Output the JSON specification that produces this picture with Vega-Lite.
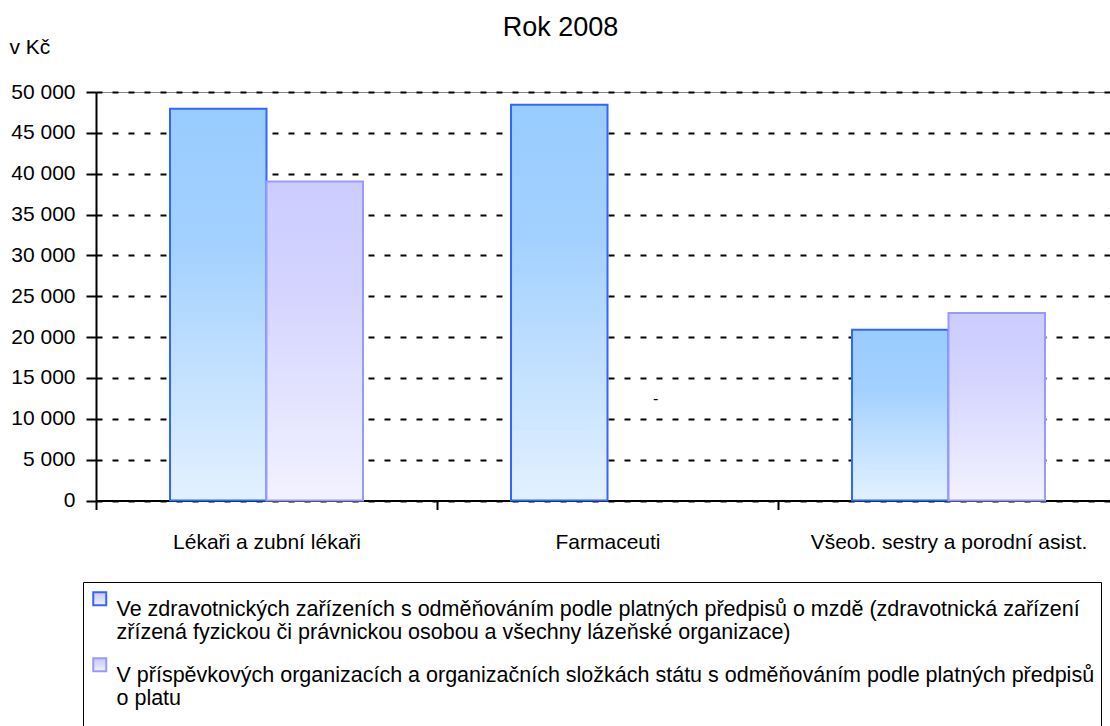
{
  "$schema": "https://vega.github.io/schema/vega-lite/v6.json",
  "width": 1023,
  "height": 408.5,
  "autosize": {"type": "none"},
  "padding": {"left": 96, "top": 92, "right": -9, "bottom": 225.5},
  "background": "white",
  "config": {
    "font": "Liberation Sans",
    "view": {"stroke": "#888888", "strokeWidth": 1}
  },
  "title": {
    "text": "Rok 2008",
    "fontSize": 27,
    "font": "Liberation Sans",
    "fontWeight": "normal",
    "color": "black",
    "anchor": "middle",
    "dx": -47,
    "offset": -27,
    "baseline": "alphabetic"
  },
  "data": {
    "values": [
      {"kategorie": "Lékaři a zubní lékaři", "skupina": "Ve zdravotnických zařízeních s odměňováním podle platných předpisů o mzdě (zdravotnická zařízení zřízená fyzickou či právnickou osobou a všechny lázeňské organizace)", "mzda": 47950, "popisek": null},
      {"kategorie": "Lékaři a zubní lékaři", "skupina": "V příspěvkových organizacích a organizačních složkách státu s odměňováním podle platných předpisů o platu", "mzda": 39050, "popisek": null},
      {"kategorie": "Farmaceuti", "skupina": "Ve zdravotnických zařízeních s odměňováním podle platných předpisů o mzdě (zdravotnická zařízení zřízená fyzickou či právnickou osobou a všechny lázeňské organizace)", "mzda": 48450, "popisek": null},
      {"kategorie": "Farmaceuti", "skupina": "V příspěvkových organizacích a organizačních složkách státu s odměňováním podle platných předpisů o platu", "mzda": null, "popisek": "-"},
      {"kategorie": "Všeob. sestry a porodní asist.", "skupina": "Ve zdravotnických zařízeních s odměňováním podle platných předpisů o mzdě (zdravotnická zařízení zřízená fyzickou či právnickou osobou a všechny lázeňské organizace)", "mzda": 20900, "popisek": null},
      {"kategorie": "Všeob. sestry a porodní asist.", "skupina": "V příspěvkových organizacích a organizačních složkách státu s odměňováním podle platných předpisů o platu", "mzda": 22950, "popisek": null}
    ]
  },
  "encoding": {
    "x": {
      "field": "kategorie",
      "type": "nominal",
      "sort": ["Lékaři a zubní lékaři", "Farmaceuti", "Všeob. sestry a porodní asist."],
      "scale": {"paddingInner": 0, "paddingOuter": 0},
      "axis": {
        "title": null,
        "tickBand": "extent",
        "domainColor": "black",
        "domainWidth": 2,
        "tickColor": "black",
        "tickWidth": 2,
        "tickSize": 9,
        "labelFontSize": 21,
        "labelColor": "black",
        "labelPadding": 22,
        "labelLimit": 400,
        "labelAngle": 0,
        "grid": false
      }
    },
    "xOffset": {
      "field": "skupina",
      "type": "nominal",
      "scale": {
        "domain": [
          "Ve zdravotnických zařízeních s odměňováním podle platných předpisů o mzdě (zdravotnická zařízení zřízená fyzickou či právnickou osobou a všechny lázeňské organizace)",
          "V příspěvkových organizacích a organizačních složkách státu s odměňováním podle platných předpisů o platu"
        ],
        "paddingInner": 0,
        "paddingOuter": 0.767
      }
    }
  },
  "layer": [
    {
      "mark": {"type": "bar", "strokeWidth": 2},
      "encoding": {
        "y": {
          "field": "mzda",
          "type": "quantitative",
          "scale": {"domain": [0, 50000], "nice": false},
          "axis": {
            "title": "v Kč",
            "titleAngle": 0,
            "titleX": -87,
            "titleY": -39,
            "titleAlign": "left",
            "titleBaseline": "alphabetic",
            "titleFontSize": 21,
            "titleFontWeight": "normal",
            "titleColor": "black",
            "values": [0, 5000, 10000, 15000, 20000, 25000, 30000, 35000, 40000, 45000, 50000],
            "labelExpr": "replace(format(datum.value, ','), ',', ' ')",
            "labelFontSize": 21,
            "labelColor": "black",
            "labelPadding": 11,
            "tickSize": 10,
            "tickWidth": 2,
            "tickColor": "black",
            "domainColor": "black",
            "domainWidth": 2,
            "grid": true,
            "gridColor": "black",
            "gridDash": [6, 10],
            "gridWidth": 2
          }
        },
        "stroke": {
          "field": "skupina",
          "type": "nominal",
          "scale": {
            "domain": [
              "Ve zdravotnických zařízeních s odměňováním podle platných předpisů o mzdě (zdravotnická zařízení zřízená fyzickou či právnickou osobou a všechny lázeňské organizace)",
              "V příspěvkových organizacích a organizačních složkách státu s odměňováním podle platných předpisů o platu"
            ],
            "range": ["#3366FF", "#9999FF"]
          },
          "legend": {
            "orient": "none",
            "legendX": -13,
            "legendY": 490,
            "title": null,
            "direction": "vertical",
            "symbolType": "square",
            "symbolSize": 169,
            "symbolStrokeWidth": 2,
            "labelFontSize": 21.5,
            "labelColor": "black",
            "labelLimit": 1200,
            "labelOffset": 6,
            "labelBaseline": "top",
            "rowPadding": 10,
            "padding": 6,
            "strokeColor": "black",
            "labelExpr": "split(replace(replace(datum.label, ' zřízená', '\u00a0\u00a0\u00a0\u00a0\u00a0|zřízená'), ' o platu', '|o platu|\u00a0'), '|')",
            "encode": {
              "legend": {"update": {"strokeWidth": {"value": 2}}},
              "labels": {"update": {"lineHeight": {"value": 25}}},
              "symbols": {"update": {"fill": {"signal": "datum.value >= 'Ve' ? '#B8DCFF' : '#DCDCFF'"}}}
            }
          }
        },
        "fill": {
          "condition": {
            "test": "datum.skupina >= 'Ve'",
            "value": {"gradient": "linear", "x1": 0, "y1": 0, "x2": 0, "y2": 1, "stops": [{"offset": 0, "color": "#99CCFF"}, {"offset": 0.35, "color": "#A3D1FF"}, {"offset": 1, "color": "#E3F1FF"}]}
          },
          "value": {"gradient": "linear", "x1": 0, "y1": 0, "x2": 0, "y2": 1, "stops": [{"offset": 0, "color": "#CCCCFF"}, {"offset": 0.35, "color": "#D4D4FF"}, {"offset": 1, "color": "#F2F2FF"}]}
        }
      }
    },
    {
      "transform": [{"filter": "datum.popisek !== null"}],
      "mark": {"type": "text", "fontSize": 16, "color": "black"},
      "encoding": {
        "y": {"datum": 12450, "type": "quantitative"},
        "text": {"field": "popisek"}
      }
    }
  ]
}
